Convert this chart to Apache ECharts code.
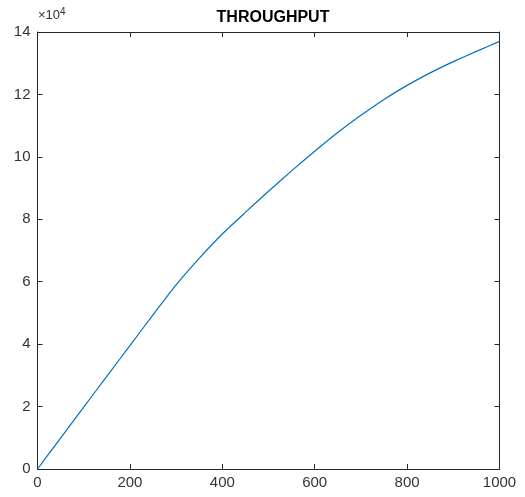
<!DOCTYPE html>
<html>
<head>
<meta charset="utf-8">
<script src="https://cdn.jsdelivr.net/npm/echarts@6/dist/echarts.min.js"></script>
<style>
html,body{margin:0;padding:0;background:#fff;}
#c{width:525px;height:497px;}
</style>
</head>
<body>
<div id="c"></div>
<script>
const xValues = [0, 50, 100, 150, 200, 250, 300, 350, 400, 450, 500, 550, 600, 650, 700, 750, 800, 850, 900, 950, 1000];
const throughput = [0, 9900, 19800, 29700, 39500, 49400, 59000, 67500, 75300, 82200, 89000, 95500, 101800, 107800, 113300, 118400, 122900, 126900, 130500, 133800, 137000];
const xTicks = [0, 200, 400, 600, 800, 1000];
const yTicks = [0, 2, 4, 6, 8, 10, 12, 14];
const titleText = 'THROUGHPUT';

const chart = echarts.init(document.getElementById('c'), null, {renderer: 'canvas'});
const axisColor = '#262626';
const labelColor = '#333333';
const font = 'Liberation Sans, Arial, Helvetica, sans-serif';
const common = {
  axisLine: {show: true, onZero: false, lineStyle: {color: axisColor, width: 1}},
  axisTick: {show: true, inside: true, length: 5, lineStyle: {color: axisColor}},
  splitLine: {show: false}
};
chart.setOption({
  animation: false,
  backgroundColor: '#fff',
  title: {
    text: titleText, left: 268, top: 5, textAlign: 'center',
    textStyle: {fontFamily: font, fontSize: 16, fontWeight: 'bold', color: '#000'}
  },
  grid: {left: 37.5, right: 25.5, top: 32, bottom: 28, containLabel: false},
  xAxis: [
    Object.assign({}, common, {
      type: 'value', min: 0, max: 1000, interval: 200, position: 'bottom',
      axisLabel: {color: labelColor, fontFamily: font, fontSize: 15, margin: 6,
        formatter: v => xTicks.includes(v) ? String(v) : ''}
    }),
    Object.assign({}, common, {
      type: 'value', min: 0, max: 1000, interval: 200, position: 'top',
      axisLabel: {show: false}
    })
  ],
  yAxis: [
    Object.assign({}, common, {
      type: 'value', min: 0, max: 140000, interval: 20000, position: 'left',
      axisLabel: {color: labelColor, fontFamily: font, fontSize: 15, margin: 7,
        formatter: v => { const t = v / 10000; return yTicks.includes(t) ? String(t) : ''; }}
    }),
    Object.assign({}, common, {
      type: 'value', min: 0, max: 140000, interval: 20000, position: 'right',
      axisLabel: {show: false}
    })
  ],
  graphic: [{
    type: 'text', left: 38, top: 7,
    style: {
      text: '×10{s|4}',
      rich: {s: {fontSize: 10, verticalAlign: 'top', fill: labelColor, fontFamily: font, padding: [0,0,7,0]}},
      fontSize: 13, fontFamily: font, fill: labelColor
    }
  }],
  series: [{
    type: 'line', xAxisIndex: 0, yAxisIndex: 0,
    data: xValues.map((x, i) => [x, throughput[i]]),
    showSymbol: false, smooth: 0.15,
    lineStyle: {color: '#0072BD', width: 1.2}
  }]
});
</script>
</body>
</html>
